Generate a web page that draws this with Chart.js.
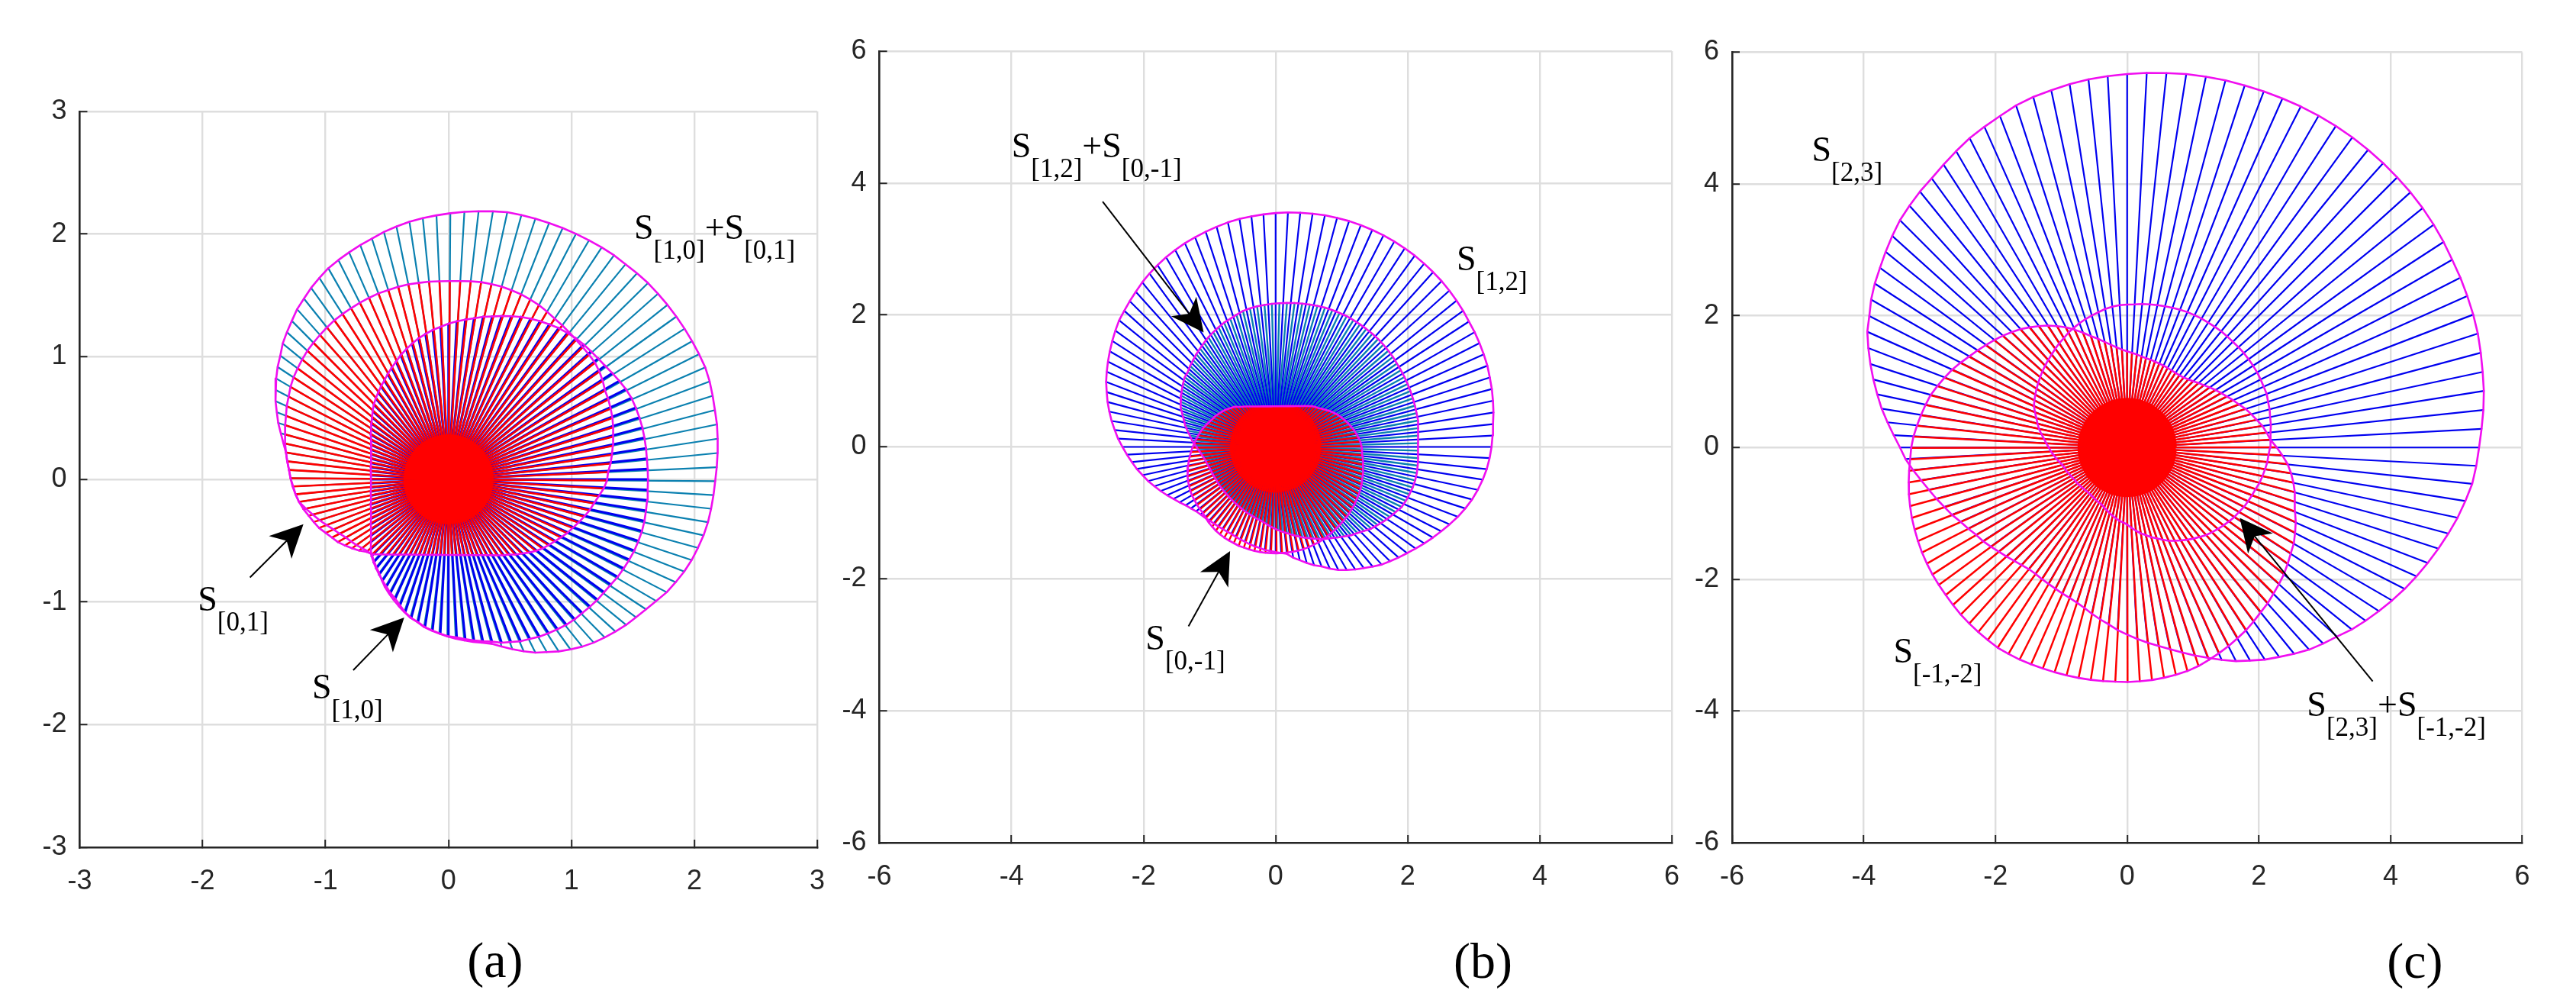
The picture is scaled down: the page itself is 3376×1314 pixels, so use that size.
<!DOCTYPE html>
<html><head><meta charset="utf-8">
<style>html,body{margin:0;padding:0;background:#fff;width:3376px;height:1314px;overflow:hidden}canvas{position:absolute}</style>
<script src="https://cdn.jsdelivr.net/npm/chart.js@4"></script>
</head><body>
<canvas id="pa"></canvas><canvas id="pb"></canvas><canvas id="pc"></canvas>
<script>
const angles=[0,3,6,9,12,15,18,21,24,27,30,33,36,39,42,45,48,51,54,57,60,63,66,69,72,75,78,81,84,87,90,93,96,99,102,105,108,111,114,117,120,123,126,129,132,135,138,141,144,147,150,153,156,159,162,165,168,171,174,177,180,183,186,189,192,195,198,201,204,207,210,213,216,219,222,225,228,231,234,237,240,243,246,249,252,255,258,261,264,267,270,273,276,279,282,285,288,291,294,297,300,303,306,309,312,315,318,321,324,327,330,333,336,339,342,345,348,351,354,357];
const ticksA=[-3,-2,-1,0,1,2,3];
const ticksBC=[-6,-4,-2,0,2,4,6];
const coreA=.36,coreB=.68,coreC=.74;
const rSumA=[2.17,2.185,2.20,2.215,2.23,2.24,2.255,2.27,2.28,2.28,2.28,2.28,2.28,2.28,2.28,2.28,2.275,2.27,2.27,2.265,2.26,2.255,2.25,2.245,2.24,2.235,2.23,2.215,2.20,2.185,2.17,2.155,2.14,2.125,2.105,2.085,2.06,2.04,2.02,2.00,1.98,1.95,1.92,1.885,1.855,1.815,1.78,1.745,1.70,1.665,1.625,1.585,1.545,1.50,1.46,1.415,1.375,1.34,1.32,1.30,1.285,1.27,1.25,1.23,1.185,1.14,1.10,1.06,1.02,.99,.96,.94,.92,.90,.88,.875,.90,.925,.95,.985,1.02,1.05,1.08,1.11,1.14,1.17,1.19,1.22,1.24,1.26,1.28,1.30,1.32,1.34,1.36,1.385,1.43,1.48,1.53,1.58,1.62,1.665,1.705,1.745,1.78,1.81,1.84,1.87,1.895,1.925,1.96,2.00,2.03,2.06,2.085,2.105,2.125,2.14,2.15,2.16];
const r10=[1.623,1.623,1.623,1.627,1.63,1.633,1.633,1.632,1.63,1.62,1.605,1.59,1.575,1.567,1.56,1.556,1.548,1.537,1.525,1.507,1.49,1.47,1.45,1.425,1.40,1.375,1.355,1.33,1.31,1.29,1.27,1.245,1.225,1.20,1.175,1.145,1.115,1.085,1.05,1.02,.99,.96,.935,.91,.885,.86,.83,.80,.775,.75,.73,.705,.69,.675,.66,.65,.645,.64,.635,.63,.63,.63,.635,.64,.645,.652,.665,.675,.69,.705,.73,.75,.78,.81,.85,.885,.91,.935,.96,.985,1.01,1.04,1.065,1.10,1.14,1.17,1.19,1.22,1.24,1.26,1.28,1.29,1.31,1.33,1.35,1.37,1.40,1.42,1.445,1.46,1.48,1.495,1.51,1.525,1.535,1.54,1.55,1.56,1.565,1.575,1.59,1.60,1.61,1.62,1.625,1.63,1.63,1.627,1.625,1.623];
const r01=[1.29,1.30,1.325,1.345,1.365,1.385,1.405,1.425,1.44,1.455,1.465,1.49,1.51,1.525,1.53,1.535,1.54,1.55,1.56,1.57,1.585,1.60,1.61,1.62,1.625,1.63,1.63,1.63,1.625,1.62,1.617,1.617,1.62,1.62,1.623,1.623,1.62,1.62,1.615,1.61,1.605,1.60,1.595,1.585,1.575,1.565,1.555,1.54,1.525,1.51,1.49,1.465,1.445,1.42,1.40,1.38,1.36,1.34,1.32,1.30,1.285,1.265,1.25,1.23,1.205,1.175,1.15,1.125,1.09,1.06,1.035,1.00,.965,.93,.89,.87,.828,.793,.762,.735,.711,.691,.674,.66,.648,.638,.63,.624,.619,.617,.616,.617,.619,.624,.63,.638,.648,.66,.674,.691,.711,.735,.762,.785,.82,.85,.885,.92,.95,.975,1.00,1.03,1.06,1.085,1.115,1.145,1.175,1.20,1.23,1.265];
const r12=[3.27,3.29,3.31,3.34,3.365,3.39,3.41,3.435,3.45,3.465,3.48,3.49,3.51,3.525,3.54,3.555,3.565,3.575,3.585,3.59,3.595,3.60,3.60,3.60,3.60,3.595,3.59,3.58,3.57,3.56,3.545,3.53,3.515,3.50,3.48,3.455,3.43,3.405,3.38,3.35,3.32,3.285,3.25,3.21,3.165,3.125,3.085,3.05,3.00,2.95,2.90,2.85,2.80,2.75,2.69,2.635,2.575,2.515,2.45,2.39,2.32,2.255,2.19,2.13,2.06,2.00,1.93,1.865,1.80,1.735,1.68,1.625,1.585,1.55,1.53,1.515,1.50,1.49,1.485,1.48,1.48,1.48,1.49,1.50,1.51,1.525,1.54,1.55,1.57,1.58,1.595,1.61,1.63,1.70,1.755,1.82,1.885,1.94,2.02,2.095,2.155,2.215,2.27,2.335,2.40,2.45,2.505,2.56,2.62,2.685,2.75,2.815,2.885,2.955,3.02,3.08,3.13,3.175,3.215,3.245];
const rSumB=[2.155,2.165,2.18,2.19,2.195,2.20,2.205,2.21,2.215,2.22,2.225,2.23,2.24,2.245,2.25,2.255,2.255,2.255,2.255,2.255,2.255,2.25,2.245,2.24,2.23,2.22,2.21,2.20,2.19,2.18,2.17,2.16,2.15,2.135,2.12,2.09,2.06,2.04,2.01,1.98,1.95,1.915,1.88,1.85,1.815,1.785,1.75,1.735,1.70,1.665,1.63,1.595,1.555,1.50,1.45,1.41,1.36,1.31,1.27,1.22,1.18,1.14,1.11,1.085,1.07,1.055,1.045,1.04,1.035,1.03,1.03,1.03,1.03,1.03,1.03,1.035,1.04,1.045,1.05,1.06,1.07,1.08,1.09,1.10,1.115,1.13,1.145,1.17,1.20,1.23,1.26,1.29,1.32,1.355,1.39,1.43,1.465,1.505,1.545,1.585,1.62,1.665,1.71,1.76,1.80,1.85,1.905,1.945,1.99,2.03,2.07,2.115,2.135,2.15,2.165,2.173,2.175,2.17,2.166,2.16];
const r0m1=[1.30,1.285,1.26,1.235,1.21,1.18,1.15,1.12,1.09,1.06,1.02,.985,.945,.91,.875,.85,.825,.79,.762,.735,.711,.691,.674,.66,.648,.638,.63,.624,.619,.617,.616,.617,.619,.624,.63,.638,.648,.66,.674,.691,.711,.735,.762,.79,.825,.87,.895,.925,.955,.98,1.005,1.03,1.05,1.075,1.105,1.135,1.16,1.185,1.21,1.235,1.26,1.285,1.31,1.335,1.36,1.385,1.405,1.425,1.44,1.455,1.465,1.47,1.48,1.485,1.49,1.51,1.53,1.545,1.56,1.57,1.58,1.585,1.59,1.60,1.60,1.605,1.61,1.61,1.612,1.613,1.613,1.612,1.61,1.61,1.608,1.605,1.60,1.59,1.585,1.575,1.56,1.55,1.54,1.53,1.52,1.51,1.50,1.485,1.475,1.46,1.45,1.435,1.42,1.40,1.385,1.37,1.35,1.335,1.32,1.31];
const r23=[5.345,5.39,5.44,5.485,5.52,5.56,5.60,5.63,5.655,5.68,5.70,5.73,5.755,5.775,5.79,5.80,5.81,5.815,5.82,5.82,5.815,5.81,5.80,5.79,5.78,5.77,5.755,5.74,5.715,5.695,5.67,5.645,5.62,5.585,5.545,5.51,5.46,5.39,5.33,5.27,5.195,5.12,5.05,5.00,4.94,4.88,4.80,4.72,4.64,4.57,4.49,4.395,4.32,4.21,4.10,3.99,3.88,3.775,3.66,3.55,3.45,3.37,3.27,3.17,3.08,3.00,2.92,2.85,2.77,2.71,2.65,2.61,2.56,2.51,2.47,2.43,2.40,2.375,2.37,2.38,2.39,2.405,2.425,2.445,2.475,2.52,2.58,2.64,2.70,2.775,2.84,2.91,2.98,3.05,3.13,3.22,3.32,3.42,3.53,3.64,3.735,3.84,3.93,4.03,4.13,4.21,4.29,4.39,4.475,4.56,4.645,4.73,4.81,4.89,4.97,5.05,5.13,5.20,5.27,5.31];
const rSumC=[2.17,2.18,2.19,2.21,2.22,2.24,2.25,2.27,2.27,2.275,2.28,2.28,2.28,2.28,2.275,2.27,2.27,2.27,2.265,2.26,2.26,2.255,2.25,2.24,2.23,2.22,2.21,2.20,2.19,2.175,2.17,2.165,2.15,2.13,2.10,2.075,2.05,2.02,1.99,1.96,1.92,1.89,1.855,1.82,1.79,1.76,1.73,1.70,1.67,1.64,1.61,1.58,1.55,1.50,1.45,1.41,1.37,1.32,1.27,1.23,1.19,1.16,1.12,1.09,1.05,1.02,1.00,.99,.97,.955,.945,.935,.93,.92,.915,.91,.905,.905,.91,.92,.93,.94,.95,.975,1.00,1.03,1.06,1.09,1.12,1.14,1.17,1.22,1.27,1.32,1.36,1.41,1.45,1.50,1.55,1.59,1.63,1.67,1.71,1.75,1.79,1.82,1.85,1.88,1.91,1.94,1.96,1.99,2.01,2.03,2.05,2.08,2.10,2.12,2.14,2.15];
const rm1m2=[2.27,2.18,2.13,2.08,2.01,1.95,1.89,1.82,1.76,1.70,1.65,1.60,1.55,1.50,1.46,1.42,1.39,1.365,1.355,1.35,1.35,1.355,1.36,1.365,1.37,1.38,1.385,1.40,1.42,1.44,1.46,1.49,1.53,1.58,1.64,1.71,1.78,1.87,1.96,2.05,2.13,2.21,2.28,2.35,2.42,2.48,2.54,2.595,2.65,2.71,2.77,2.84,2.91,2.97,3.03,3.09,3.13,3.17,3.21,3.25,3.28,3.30,3.33,3.36,3.39,3.415,3.44,3.46,3.48,3.50,3.515,3.53,3.54,3.55,3.565,3.58,3.59,3.60,3.61,3.62,3.615,3.61,3.60,3.59,3.585,3.58,3.575,3.57,3.565,3.56,3.56,3.555,3.55,3.54,3.53,3.515,3.49,3.455,3.42,3.385,3.345,3.31,3.265,3.22,3.185,3.14,3.10,3.06,3.01,2.96,2.92,2.86,2.80,2.73,2.68,2.63,2.58,2.52,2.45,2.36];

const TEAL='#0a80b0',BLUE='#0000f0',RED='#ff0000',MAG='#f00ef0',INK='#262626',GRID='#dedede';
function pts(r,off){return r.map((v,i)=>{const t=(angles[i]+off)*Math.PI/180;return {x:v*Math.cos(t),y:v*Math.sin(t)};});}
function spokes(r,off,color,w){const d=[];pts(r,off).forEach(p=>{d.push({x:0,y:0});d.push(p);});
  return {data:d,showLine:true,borderColor:color,borderWidth:w,pointRadius:0,tension:0,borderJoinStyle:'round',borderCapStyle:'butt',clip:false};}
function core(r,c,w){return spokes(r.map(v=>Math.min(v,c)),1.5,RED,w);}
function outline(r,off){const d=pts(r,off);d.push(d[0]);
  return {data:d,showLine:true,borderColor:MAG,borderWidth:2.6,pointRadius:0,tension:0,borderJoinStyle:'round',clip:false};}

const annot={
 id:'annot',
 afterDatasetsDraw(c,_,o){
  const {ctx,scales:{x,y}}=c;
  ctx.save();
  (o.arrows||[]).forEach(a=>{
   const x0=x.getPixelForValue(a[0]),y0=y.getPixelForValue(a[1]),x1=x.getPixelForValue(a[2]),y1=y.getPixelForValue(a[3]);
   const L=Math.hypot(x1-x0,y1-y0),ux=(x1-x0)/L,uy=(y1-y0)/L,nx=-uy,ny=ux;
   ctx.strokeStyle='#000';ctx.lineWidth=2;ctx.beginPath();ctx.moveTo(x0,y0);ctx.lineTo(x1-30*ux,y1-30*uy);ctx.stroke();
   ctx.fillStyle='#000';ctx.beginPath();ctx.moveTo(x1,y1);
   ctx.lineTo(x1-43*ux+21*nx,y1-43*uy+21*ny);ctx.lineTo(x1-31*ux,y1-31*uy);ctx.lineTo(x1-43*ux-21*nx,y1-43*uy-21*ny);ctx.closePath();ctx.fill();
  });
  ctx.textBaseline='alphabetic';ctx.textAlign='left';ctx.fillStyle='#000';
  (o.labels||[]).forEach(l=>{
   let px=x.getPixelForValue(l.x);const py=y.getPixelForValue(l.y);
   l.parts.forEach(p=>{
    const sub=p.startsWith('[');
    ctx.font=(sub?'35px':'46px')+' "Liberation Serif"';
    ctx.fillText(p,px,py+(sub?26:0));
    px+=ctx.measureText(p).width;
   });
  });
  if(o.tag){ctx.font='66px "Liberation Serif"';ctx.textAlign='center';ctx.textBaseline='middle';ctx.fillStyle='#000';
   ctx.fillText(o.tag.text,x.getPixelForValue(o.tag.x),y.getPixelForValue(o.tag.y));}
  ctx.restore();
 }
};

function panel(id,box,plot,lim,tickVals,list,notes){
 const el=document.getElementById(id);
 el.style.left=box.l+'px';el.style.top=box.t+'px';
 el.width=box.w;el.height=box.h;el.style.width=box.w+'px';el.style.height=box.h+'px';
 const axis=(vals)=>({type:'linear',min:-lim,max:lim,
   afterBuildTicks:a=>{a.ticks=vals.map(v=>({value:v}));},
   grid:{color:GRID,lineWidth:2.4,tickColor:INK,tickWidth:2,tickLength:-10,drawTicks:true},
   border:{color:INK,width:2.6}});
 const xAxis=axis(tickVals),yAxis=axis(tickVals);
 xAxis.position='bottom';yAxis.position='left';
 const tfont={family:'"Liberation Sans"',size:36};
 xAxis.ticks={autoSkip:false,maxRotation:0,minRotation:0,color:INK,font:tfont,padding:33,callback:v=>String(v)};
 yAxis.ticks={autoSkip:false,color:INK,font:tfont,padding:27,callback:v=>String(v)};
 xAxis.afterFit=s=>{s.height=box.t+box.h-plot.y1;};
 yAxis.afterFit=s=>{s.width=plot.x0-box.l;};
 const datasets=list.map((d,i)=>({...d,order:list.length-i}));
 new Chart(el,{type:'scatter',data:{datasets},plugins:[annot],options:{
  responsive:false,animation:false,devicePixelRatio:1,
  layout:{padding:{left:0,bottom:0,top:plot.y0-box.t,right:box.l+box.w-plot.x1}},
  scales:{x:xAxis,y:yAxis},
  plugins:{legend:{display:false},tooltip:{enabled:false},annot:notes}
 }});
}

Chart.defaults.font.family='"Liberation Sans"';
document.fonts.ready.then(()=>{
panel('pa',{l:0,t:0,w:1130,h:1314},{x0:104.5,x1:1071,y0:146,y1:1110},3,ticksA,[
  spokes(rSumA,-.4,TEAL,2.2),spokes(r10,0,BLUE,3),spokes(r01,-.4,RED,2.6),core(r01,coreA,2.4),
  outline(rSumA,-.4),outline(r10,0),outline(r01,-.4)],
 {labels:[{x:1.51,y:1.96,parts:['S','[1,0]','+','S','[0,1]']},{x:-2.04,y:-1.07,parts:['S','[0,1]']},{x:-1.11,y:-1.786,parts:['S','[1,0]']}],
  arrows:[[-1.615,-.80,-1.18,-.365],[-.775,-1.556,-.36,-1.127]],tag:{text:'(a)',x:.38,y:-3.95}});
panel('pb',{l:1090,t:0,w:1160,h:1314},{x0:1152.6,x1:2191,y0:67,y1:1104},6,ticksBC,[
  spokes(rSumB,1.5,TEAL,2.4),spokes(r12,0,BLUE,2.2),spokes(r0m1,.5,RED,2.4),core(r0m1,coreB,2.4),
  outline(r12,0),outline(rSumB,1.5),outline(r0m1,.5)],
 {labels:[{x:-4.0,y:4.39,parts:['S','[1,2]','+','S','[0,-1]']},{x:2.74,y:2.68,parts:['S','[1,2]']},{x:-1.97,y:-3.07,parts:['S','[0,-1]']}],
  arrows:[[-2.62,3.72,-1.09,1.735],[-1.32,-2.72,-.69,-1.58]],tag:{text:'(b)',x:3.14,y:-7.85}});
panel('pc',{l:2200,t:0,w:1176,h:1314},{x0:2270,x1:3305.5,y0:68.5,y1:1104},6,ticksBC,[
  spokes(r23,0,BLUE,2.2),spokes(rm1m2,.1,RED,2.5),core(rm1m2,coreC,2.4),
  outline(r23,0),outline(rSumC,0),outline(rm1m2,.1)],
 {labels:[{x:-4.79,y:4.35,parts:['S','[2,3]']},{x:-3.55,y:-3.27,parts:['S','[-1,-2]']},{x:2.73,y:-4.08,parts:['S','[2,3]','+','S','[-1,-2]']}],
  arrows:[[3.73,-3.55,1.71,-1.07]],tag:{text:'(c)',x:4.37,y:-7.85}});
});
</script>
</body></html>
